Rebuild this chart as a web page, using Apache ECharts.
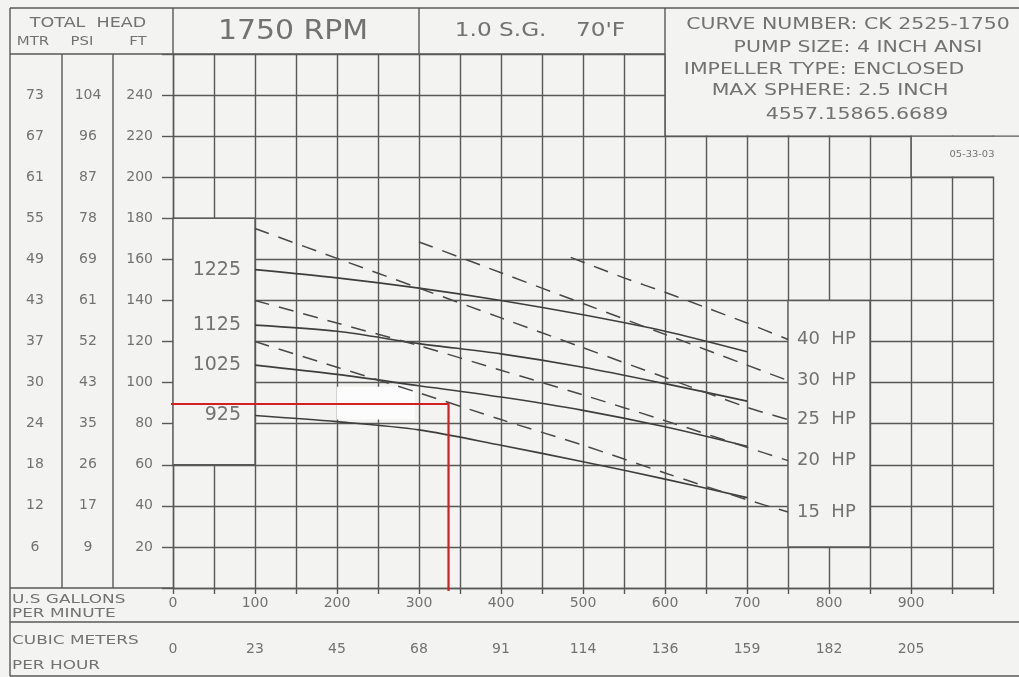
<!DOCTYPE html>
<html><head><meta charset="utf-8">
<script src="https://cdn.jsdelivr.net/npm/echarts@6/dist/echarts.min.js"></script>
<style>html,body{margin:0;padding:0;background:#f3f3f1;}#c{width:1019px;height:677px;}</style>
</head><body><div id="c"></div>
<script>
// ---- data ----
const gpmTicks = [0,100,200,300,400,500,600,700,800,900];
const m3hLabels = ['0','23','45','68','91','114','136','159','182','205'];
const ftTicks = [20,40,60,80,100,120,140,160,180,200,220,240];
const psiLabels = ['9','17','26','35','43','52','61','69','78','87','96','104'];
const mtrLabels = ['6','12','18','24','30','37','43','49','55','61','67','73'];

const imp1225 = [[100,155],[200,151],[300,146],[400,140],[500,133],[600,125],[700,115]];
const imp1125 = [[100,128],[200,125],[300,119],[400,114],[500,107.5],[600,99.5],[700,91]];
const imp1025 = [[100,108.5],[200,104],[300,98.5],[400,93],[500,86.5],[600,78.5],[700,69]];
const imp925  = [[100,84],[200,81],[300,77],[400,69.5],[500,61.5],[600,53],[700,44]];

const hp40 = [[485,161],[550,151],[600,144],[650,136.5],[700,129],[750,121]];
const hp30 = [[300,168.5],[400,153.5],[500,138.5],[600,123.5],[700,108.5],[750,101]];
const hp25 = [[100,175],[200,160.5],[300,146],[400,131.5],[500,117],[600,102.5],[700,88],[750,82]];
const hp20 = [[100,140],[200,129],[300,118],[400,106],[500,94],[600,81.5],[700,68.5],[750,62]];
const hp15 = [[100,120],[200,107.5],[300,95],[400,82],[500,69.5],[600,56],[700,43],[750,37]];

const dutyLine = [[-48,89.6],[336,89.6],[336,-1.5]];

// ---- style ----
const LINE = '#585858', TXT = '#727272', BG = '#f3f3f1', FONT = 'DejaVu Sans';

const chart = echarts.init(document.getElementById('c'));

function impSeries(name, arr){
  return {type:'line', name, smooth:0.3, showSymbol:true, symbolSize:0, silent:true, z:4,
    data: arr.map((d,i)=> i===0 ? {value:d, label:{show:true}} : {value:d}),
    lineStyle:{color:'#3e3e3e', width:1.6}, itemStyle:{color:'#3e3e3e'},
    label:{show:false, position:'left', distance:14, formatter:()=>name, color:TXT, fontSize:19, fontFamily:FONT}};
}
function hpSeries(name, arr){
  return {type:'line', name, smooth:0.3, showSymbol:true, symbolSize:0, silent:true, z:4,
    data: arr.map((d,i)=> i===arr.length-1 ? {value:d, label:{show:true}} : {value:d}),
    lineStyle:{color:'#484848', width:1.5, type:[15,10]}, itemStyle:{color:'#484848'},
    label:{show:false, position:'right', distance:9, formatter:()=>name, color:TXT, fontSize:18, fontFamily:FONT}};
}

const axisText = {color:TXT, fontSize:14, fontFamily:FONT};
const option = {
  animation:false,
  backgroundColor:BG,
  grid:{left:173, right:26, top:54, bottom:89},
  xAxis:[
    {type:'value', min:0, max:1000, interval:50, position:'bottom',
     axisLine:{show:true, onZero:false, lineStyle:{color:LINE, width:1.4}},
     axisTick:{show:true, length:6, lineStyle:{color:LINE, width:1.4}},
     splitLine:{show:true, lineStyle:{color:LINE, width:1.4}},
     axisLabel:Object.assign({margin:8, formatter:v=>gpmTicks.includes(v)?String(v):''}, axisText)},
    {type:'value', min:0, max:1000, interval:100, position:'bottom', offset:54,
     axisLine:{show:false}, axisTick:{show:false}, splitLine:{show:false},
     axisLabel:Object.assign({margin:0, formatter:v=>{const i=gpmTicks.indexOf(v);return i<0?'':m3hLabels[i];}}, axisText)}
  ],
  yAxis:[
    {type:'value', min:0, max:260, interval:20, position:'left',
     axisLine:{show:true, onZero:false, lineStyle:{color:LINE, width:1.4}},
     axisTick:{show:true, length:11, lineStyle:{color:LINE, width:1.4}},
     splitLine:{show:true, lineStyle:{color:LINE, width:1.4}},
     axisLabel:Object.assign({margin:20, formatter:v=>ftTicks.includes(v)?String(v):''}, axisText)},
    {type:'value', min:0, max:260, interval:20, position:'left', offset:85,
     axisLine:{show:false}, axisTick:{show:false}, splitLine:{show:false},
     axisLabel:Object.assign({margin:0, align:'center', formatter:v=>{const i=ftTicks.indexOf(v);return i<0?'':psiLabels[i];}}, axisText)},
    {type:'value', min:0, max:260, interval:20, position:'left', offset:138,
     axisLine:{show:false}, axisTick:{show:false}, splitLine:{show:false},
     axisLabel:Object.assign({margin:0, align:'center', formatter:v=>{const i=ftTicks.indexOf(v);return i<0?'':mtrLabels[i];}}, axisText)}
  ],
  series:[
    {type:'line', data:[], silent:true, z:2,
     markArea:{silent:true, itemStyle:{color:BG, borderColor:LINE, borderWidth:1.4}, label:{show:false},
       data:[
         [{coord:[0,60]},{coord:[100,180]}],
         [{coord:[750,20]},{coord:[850,140]}],
         [{coord:[200,98], itemStyle:{color:'#fcfcfc', borderWidth:0}},{coord:[295,82]}]
       ]}},
    impSeries('1225', imp1225),
    impSeries('1125', imp1125),
    impSeries('1025', imp1025),
    impSeries('925', imp925),
    hpSeries('40  HP', hp40),
    hpSeries('30  HP', hp30),
    hpSeries('25  HP', hp25),
    hpSeries('20  HP', hp20),
    hpSeries('15  HP', hp15),
    {type:'line', name:'duty', data:dutyLine, clip:false, showSymbol:false, silent:true, z:6,
     lineStyle:{color:'#d42020', width:2.2}}
  ]
};
chart.setOption(option);

// ---- frame / header decoration ----
const P = (a,b)=>chart.convertToPixel({xAxisIndex:0, yAxisIndex:0},[a,b]);
const [x0, yTop] = P(0,260);
const [x1000, yBot] = P(1000,0);
const [x300] = P(300,0);
const [x600, y220] = P(600,220);
const [x900, y200] = P(900,200);
const L=10, T=8, W=1019, ROW=622, B=676, C1=62, C2=113;

const ln = (x1,y1,x2,y2)=>({type:'line', z:101, silent:true, shape:{x1,y1,x2,y2}, style:{stroke:LINE, lineWidth:1.4}});
const tx = (s,x,y,size,opt={})=>({type:'text', z:102, silent:true, x, y, scaleX:opt.sx||1, originX:0, originY:0,
  style:{text:s, x:0, y:0, fill:TXT, fontSize:size, fontFamily:FONT,
    align:opt.align||'center', textAlign:opt.align||'center', verticalAlign:'middle', textVerticalAlign:'middle'}});

const g = [
  {type:'rect', z:100, silent:true, shape:{x:x600+0.7, y:0, width:W-x600, height:y220-0.7}, style:{fill:BG}},
  {type:'rect', z:100, silent:true, shape:{x:x900+0.7, y:y220, width:W-x900, height:y200-y220-0.7}, style:{fill:BG}},
  ln(L,T,W,T), ln(L,T,L,B),
  ln(L,yTop,x600,yTop),
  ln(x0,T,x0,yTop), ln(x300,T,x300,yTop), ln(x600,T,x600,y220),
  ln(x600,y220,W,y220),
  ln(x900,y220,x900,y200), ln(x900,y200,x1000,y200),
  ln(C1,yTop,C1,yBot), ln(C2,yTop,C2,yBot),
  ln(L,yBot,x0,yBot), ln(L,ROW,W,ROW), ln(L,B,W,B),
  tx('TOTAL  HEAD', 88, 23, 14, {sx:1.25}),
  tx('MTR', 33, 42, 13, {sx:1.15}), tx('PSI', 82, 42, 13, {sx:1.15}), tx('FT', 138, 42, 13, {sx:1.15}),
  tx('1750 RPM', 293, 32, 26, {sx:1.15}),
  tx("1.0 S.G.    70'F", 540, 31, 19, {sx:1.22}),
  tx('CURVE NUMBER: CK 2525-1750', 848, 25, 16, {sx:1.28}),
  tx('PUMP SIZE: 4 INCH ANSI', 858, 48, 16, {sx:1.28}),
  tx('IMPELLER TYPE: ENCLOSED', 824, 70, 16, {sx:1.28}),
  tx('MAX SPHERE: 2.5 INCH', 830, 91, 16, {sx:1.28}),
  tx('4557.15865.6689', 857, 115, 16, {sx:1.28}),
  tx('05-33-03', 972, 155, 9, {sx:1.1}),
  tx('U.S GALLONS', 12, 600, 13, {align:'left', sx:1.3}),
  tx('PER MINUTE', 12, 614, 13, {align:'left', sx:1.3}),
  tx('CUBIC METERS', 12, 641, 13, {align:'left', sx:1.3}),
  tx('PER HOUR', 12, 666, 13, {align:'left', sx:1.3})
];
chart.setOption({graphic:g});
</script>
</body></html>
